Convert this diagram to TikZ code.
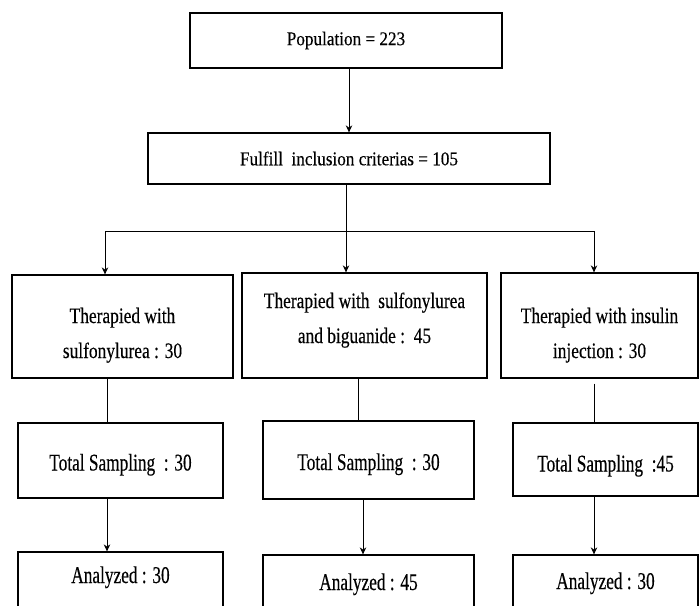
\documentclass[tikz,border=0pt]{standalone}
\usepackage{fontspec}
\setmainfont{Liberation Serif}
\newfontfamily\topfont{Liberation Serif}[FakeStretch=0.88,FakeBold=0.3]
\newfontfamily\midfont{Liberation Serif}[FakeStretch=0.79,FakeBold=0.3]
\newfontfamily\lowfont{Liberation Serif}[FakeStretch=0.72,FakeBold=0.3]
\usetikzlibrary{arrows.meta,calc,positioning}

\tikzset{
  box/.style={draw, line width=1.3pt, inner sep=0pt, align=center},
  topbox/.style={box, font=\topfont\fontsize{19.5}{24}\selectfont},
  therbox/.style={box, font=\midfont\fontsize{22}{35}\selectfont},
  lowbox/.style={box, font=\lowfont\fontsize{24}{28}\selectfont},
  link/.style={line width=0.9pt},
  arr/.style={link, -{Stealth[length=7pt,width=6.5pt]}}
}

\begin{document}
\begin{tikzpicture}[x=1pt,y=-1pt]
\useasboundingbox (0,0) rectangle (700,605);
\clip (0,0) rectangle (700,605);

% top of the chart
\node[topbox, minimum width=312pt, minimum height=55pt] (pop) at (346,40.5) {Population = 223};
\node[topbox, minimum width=402pt, minimum height=51pt] (incl) at (349,158.5) {Fulfill\ \ inclusion criterias = 105};

% three therapy groups
\node[therbox, minimum width=221pt, minimum height=103pt, text height=70pt, text depth=7pt] (th1) at (122.5,326.5) {Therapied with\\sulfonylurea : 30};
\node[therbox, minimum width=245pt, minimum height=105pt, text height=50pt, text depth=15pt] (th2) at (364.5,325.5) {Therapied with\ \ sulfonylurea\\and biguanide :\ \ 45};
\node[therbox, minimum width=197pt, minimum height=105pt, text height=70pt, text depth=5pt] (th3) at (599.5,325.5) {Therapied with insulin\\injection : 30};

% sampling
\node[lowbox, minimum width=205pt, minimum height=75pt, text height=20pt, text depth=0pt] (ts1) at (120.5,460.5) {Total Sampling\ \ : 30};
\node[lowbox, minimum width=211pt, minimum height=78pt, text height=20pt, text depth=0pt] (ts2) at (368.5,460) {Total Sampling\ \ : 30};
\node[lowbox, minimum width=185pt, minimum height=73pt, text height=24pt, text depth=0pt] (ts3) at (605.5,459.5) {Total Sampling\ \ :45};

% analyzed (cut at the bottom)
\node[lowbox, minimum width=205pt, minimum height=80pt, text height=15pt, text depth=33pt] (an1) at (120.5,592) {Analyzed : 30};
\node[lowbox, minimum width=211pt, minimum height=80pt, text height=15pt, text depth=25pt] (an2) at (368.5,595) {Analyzed : 45};
\node[lowbox, minimum width=185pt, minimum height=80pt, text height=15pt, text depth=27pt] (an3) at (605.5,595) {Analyzed : 30};

% branching
\coordinate (hub) at (346,231);
\coordinate (hubL) at (105,231);
\coordinate (hubR) at (594,231);
\coordinate (colA) at (107,0);
\coordinate (colB) at (358,0);
\coordinate (colB2) at (363,0);
\coordinate (colC) at (594,0);

\draw[arr] (pop.south -| incl.north) -- (incl.north);
\draw[link] (hub |- incl.south) -- (hub);
\draw[link] (hubL) -- (hubR);
\draw[arr] (hubL) -- (hubL |- th1.north);
\draw[arr] (hub) -- (hub |- th2.north);
\draw[arr] (hubR) -- (hubR |- th3.north);

\draw[link] (colA |- th1.south) -- (colA |- ts1.north);
\draw[link] (colB |- th2.south) -- (colB |- ts2.north);
\draw[link, shorten <=5pt] (colC |- th3.south) -- (colC |- ts3.north);

\draw[arr] (colA |- ts1.south) -- (colA |- an1.north);
\draw[arr] (colB2 |- ts2.south) -- (colB2 |- an2.north);
\draw[arr] (colC |- ts3.south) -- (colC |- an3.north);
\end{tikzpicture}
\end{document}
